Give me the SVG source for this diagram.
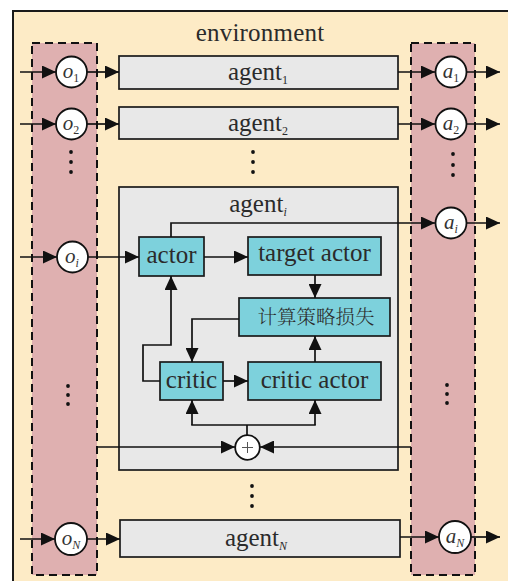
<svg xmlns="http://www.w3.org/2000/svg" width="508" height="581" viewBox="0 0 508 581">
  <style>
    .env { fill: #FDEBC6; stroke: #1a1a1a; stroke-width: 2; }
    .col { fill: #DFB0B0; stroke: #111; stroke-width: 2; stroke-dasharray: 8 5; }
    .agent { fill: #E8E8E8; stroke: #1a1a1a; stroke-width: 1.7; }
    .cyan { fill: #7DD1DC; stroke: #1a1a1a; stroke-width: 1.7; }
    .node { fill: #fff; stroke: #111; stroke-width: 1.8; }
    text { font-family: 'Liberation Serif', 'Times New Roman', 'DejaVu Serif', serif; }
    .lbl { font-size: 25px; fill: #2b2b2b; text-anchor: middle; }
    .cjk { font-family: 'Noto Serif CJK SC', 'Noto Sans CJK SC', sans-serif; font-size: 19.5px; fill: #2b2b2b; text-anchor: middle; font-weight: 300; }
    .var { font-size: 21px; fill: #333; text-anchor: middle; }
    .it { font-style: italic; }
    .sub { font-size: 12px; }
    .wire { fill: none; stroke: #111; stroke-width: 1.7; }
    .dot { fill: #111; }
  </style>
  <defs>
    <marker id="arrow" markerUnits="userSpaceOnUse" markerWidth="15" markerHeight="13" refX="14" refY="6.5" orient="auto">
      <path d="M0,0 L14,6.5 L0,13 Z" fill="#111"/>
    </marker>
  </defs>

  <!-- environment -->
  <g id="environment">
    <rect class="env" x="13" y="11" width="520" height="600"/>
    <text class="lbl" x="260" y="41" letter-spacing="0.2">environment</text>
  </g>

  <!-- observation / action columns -->
  <g id="obs-column"><rect class="col" x="32" y="43" width="65" height="532"/></g>
  <g id="act-column"><rect class="col" x="411" y="43" width="64" height="532"/></g>

  <!-- agent boxes -->
  <g id="agent1">
    <rect class="agent" x="119" y="56" width="279" height="33"/>
    <text class="lbl" x="258" y="80">agent<tspan class="sub" dy="4">1</tspan></text>
  </g>
  <g id="agent2">
    <rect class="agent" x="119" y="107" width="279" height="32"/>
    <text class="lbl" x="258" y="131">agent<tspan class="sub" dy="4">2</tspan></text>
  </g>
  <g id="agenti">
    <rect class="agent" x="119" y="187" width="279" height="283"/>
    <text class="lbl" x="258" y="212">agent<tspan class="sub it" dy="4">i</tspan></text>
  </g>
  <g id="agentN">
    <rect class="agent" x="120" y="520" width="280" height="37"/>
    <text class="lbl" x="256" y="546">agent<tspan class="sub it" dy="4">N</tspan></text>
  </g>

  <!-- inner modules of agent i -->
  <g id="actor">
    <rect class="cyan" x="139" y="237" width="65" height="39"/>
    <text class="lbl" x="171.5" y="263">actor</text>
  </g>
  <g id="target-actor">
    <rect class="cyan" x="248" y="237" width="133" height="38"/>
    <text class="lbl" x="314.5" y="261">target actor</text>
  </g>
  <g id="policy-loss">
    <rect class="cyan" x="239" y="298" width="151" height="38"/>
    <text class="cjk" x="316" y="324">计算策略损失</text>
  </g>
  <g id="critic">
    <rect class="cyan" x="160" y="362" width="63" height="38"/>
    <text class="lbl" x="191.5" y="388">critic</text>
  </g>
  <g id="critic-actor">
    <rect class="cyan" x="248" y="362" width="133" height="38"/>
    <text class="lbl" x="314.5" y="388">critic actor</text>
  </g>

  <!-- connectors -->
  <g id="connectors">
    <line class="wire" x1="20" y1="72" x2="56" y2="72" marker-end="url(#arrow)"/>
    <line class="wire" x1="87" y1="72" x2="119" y2="72" marker-end="url(#arrow)"/>
    <line class="wire" x1="398" y1="72" x2="435" y2="72" marker-end="url(#arrow)"/>
    <line class="wire" x1="467" y1="72" x2="500" y2="72" marker-end="url(#arrow)"/>

    <line class="wire" x1="20" y1="124" x2="56" y2="124" marker-end="url(#arrow)"/>
    <line class="wire" x1="87" y1="124" x2="119" y2="124" marker-end="url(#arrow)"/>
    <line class="wire" x1="398" y1="124" x2="435" y2="124" marker-end="url(#arrow)"/>
    <line class="wire" x1="467" y1="124" x2="500" y2="124" marker-end="url(#arrow)"/>

    <line class="wire" x1="20" y1="257" x2="57" y2="257" marker-end="url(#arrow)"/>
    <line class="wire" x1="88" y1="257" x2="139" y2="257" marker-end="url(#arrow)"/>
    <polyline class="wire" points="171,237 171,223 435,223" marker-end="url(#arrow)"/>
    <line class="wire" x1="467" y1="223" x2="500" y2="223" marker-end="url(#arrow)"/>

    <line class="wire" x1="204" y1="257" x2="248" y2="257" marker-end="url(#arrow)"/>
    <line class="wire" x1="315" y1="275" x2="315" y2="298" marker-end="url(#arrow)"/>
    <line class="wire" x1="315" y1="362" x2="315" y2="336" marker-end="url(#arrow)"/>
    <polyline class="wire" points="239,319 192,319 192,362" marker-end="url(#arrow)"/>
    <polyline class="wire" points="160,381 143,381 143,345 171,345 171,276" marker-end="url(#arrow)"/>
    <line class="wire" x1="223" y1="381" x2="248" y2="381" marker-end="url(#arrow)"/>

    <line class="wire" x1="97" y1="447" x2="235" y2="447" marker-end="url(#arrow)"/>
    <line class="wire" x1="411" y1="447" x2="260" y2="447" marker-end="url(#arrow)"/>
    <line class="wire" x1="247" y1="435" x2="247" y2="425"/>
    <line class="wire" x1="191.2" y1="425" x2="315.8" y2="425"/>
    <line class="wire" x1="192" y1="425" x2="192" y2="400" marker-end="url(#arrow)"/>
    <line class="wire" x1="315" y1="425" x2="315" y2="400" marker-end="url(#arrow)"/>

    <line class="wire" x1="20" y1="539" x2="55" y2="539" marker-end="url(#arrow)"/>
    <line class="wire" x1="87" y1="539" x2="120" y2="539" marker-end="url(#arrow)"/>
    <line class="wire" x1="400" y1="537" x2="439" y2="537" marker-end="url(#arrow)"/>
    <line class="wire" x1="471" y1="537" x2="500" y2="537" marker-end="url(#arrow)"/>
  </g>

  <!-- observation nodes -->
  <g id="o1"><circle class="node" cx="71.5" cy="72" r="15.5"/><text class="var" x="71" y="78"><tspan class="it">o</tspan><tspan class="sub" dy="4">1</tspan></text></g>
  <g id="o2"><circle class="node" cx="71.5" cy="124" r="15.5"/><text class="var" x="71" y="130"><tspan class="it">o</tspan><tspan class="sub" dy="4">2</tspan></text></g>
  <g id="oi"><circle class="node" cx="72.5" cy="257" r="15.5"/><text class="var" x="72" y="263"><tspan class="it">o</tspan><tspan class="sub it" dy="4">i</tspan></text></g>
  <g id="oN"><circle class="node" cx="71" cy="539" r="16"/><text class="var" x="71" y="545"><tspan class="it">o</tspan><tspan class="sub it" dy="4">N</tspan></text></g>

  <!-- action nodes -->
  <g id="a1"><circle class="node" cx="451" cy="72" r="15.5"/><text class="var" x="451" y="78"><tspan class="it">a</tspan><tspan class="sub" dy="4">1</tspan></text></g>
  <g id="a2"><circle class="node" cx="451" cy="124" r="15.5"/><text class="var" x="451" y="130"><tspan class="it">a</tspan><tspan class="sub" dy="4">2</tspan></text></g>
  <g id="ai"><circle class="node" cx="451" cy="223" r="15.5"/><text class="var" x="451" y="229"><tspan class="it">a</tspan><tspan class="sub it" dy="4">i</tspan></text></g>
  <g id="aN"><circle class="node" cx="455" cy="537" r="16"/><text class="var" x="455" y="543"><tspan class="it">a</tspan><tspan class="sub it" dy="4">N</tspan></text></g>

  <!-- summing junction -->
  <g id="sum">
    <circle class="node" cx="247.5" cy="447.5" r="12.3"/>
    <path d="M242,447.5 H253 M247.5,442 V453" stroke="#555" stroke-width="1"/>
  </g>

  <!-- ellipsis dots -->
  <g id="ellipses">
    <circle class="dot" cx="71" cy="152" r="1.9"/><circle class="dot" cx="71" cy="162" r="1.9"/><circle class="dot" cx="71" cy="172" r="1.9"/>
    <circle class="dot" cx="253" cy="152" r="1.9"/><circle class="dot" cx="253" cy="162" r="1.9"/><circle class="dot" cx="253" cy="172" r="1.9"/>
    <circle class="dot" cx="453" cy="154" r="1.9"/><circle class="dot" cx="453" cy="165" r="1.9"/><circle class="dot" cx="453" cy="175" r="1.9"/>
    <circle class="dot" cx="68" cy="386" r="1.9"/><circle class="dot" cx="68" cy="395" r="1.9"/><circle class="dot" cx="68" cy="404" r="1.9"/>
    <circle class="dot" cx="447" cy="385" r="1.9"/><circle class="dot" cx="447" cy="394" r="1.9"/><circle class="dot" cx="447" cy="403" r="1.9"/>
    <circle class="dot" cx="252" cy="486" r="1.9"/><circle class="dot" cx="252" cy="496" r="1.9"/><circle class="dot" cx="252" cy="506" r="1.9"/>
  </g>
</svg>
